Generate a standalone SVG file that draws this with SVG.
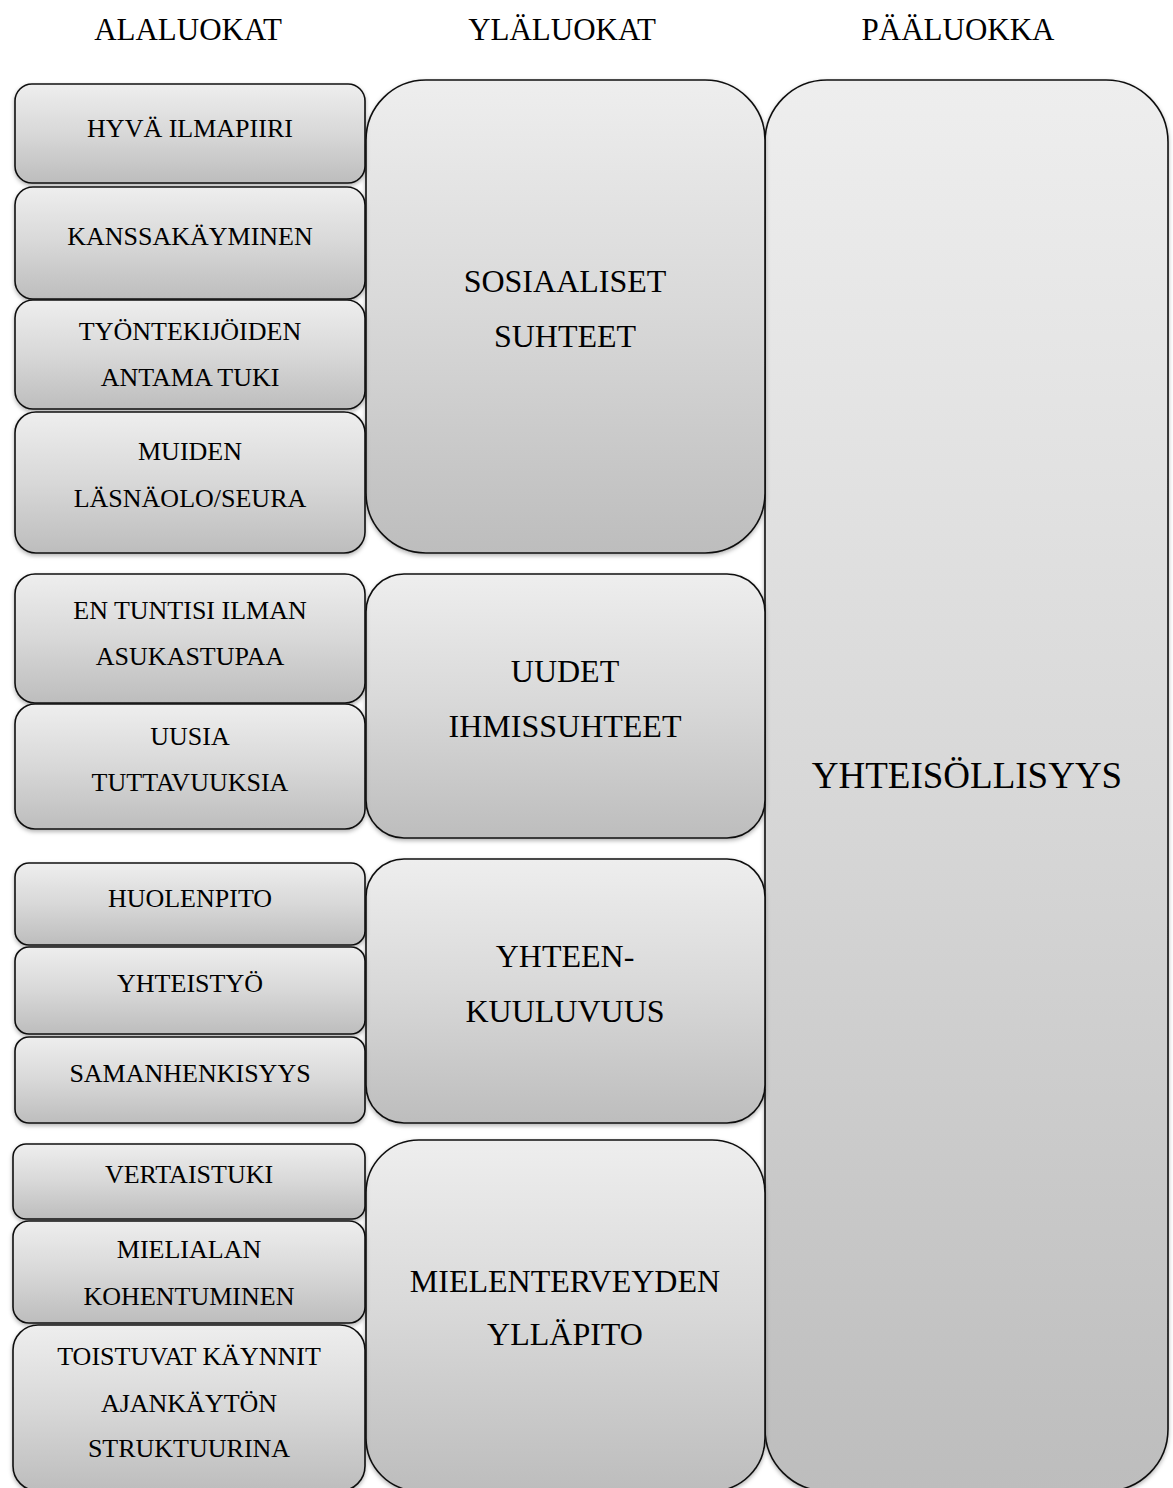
<svg xmlns="http://www.w3.org/2000/svg" width="1173" height="1488" viewBox="0 0 1173 1488">
<defs>
<linearGradient id="g" x1="0" y1="0" x2="0" y2="1">
<stop offset="0" stop-color="#eeeeee"/>
<stop offset="0.5" stop-color="#d8d8d8"/>
<stop offset="1" stop-color="#bdbdbd"/>
</linearGradient>
<filter id="sh" x="-5%" y="-5%" width="110%" height="115%">
<feDropShadow dx="0" dy="2" stdDeviation="2" flood-color="#000" flood-opacity="0.3"/>
</filter>
</defs>
<style>
rect{fill:url(#g);stroke:#111;stroke-width:1.6;filter:url(#sh)}
text{font-family:"Liberation Serif","Times New Roman",serif;fill:#000;text-anchor:middle}
.h{font-size:31px}
.s{font-size:26px}
.m{font-size:32px}
.b{font-size:37px}
</style>
<rect width="1173" height="1488" fill="#fff" style="fill:#fff;stroke:none;filter:none"/>
<g id="headers">
<text class="h" x="188" y="40">ALALUOKAT</text>
<text class="h" x="562" y="40">YLÄLUOKAT</text>
<text class="h" x="958" y="40">PÄÄLUOKKA</text>
</g>
<g id="connectors"></g>
<g id="paaluokka">
<rect x="765" y="80" width="403" height="1411" rx="62"/>
<text class="b" x="967" y="788">YHTEISÖLLISYYS</text>
</g>
<g id="ylaluokka-sosiaaliset">
<rect x="366" y="80" width="399" height="473" rx="60"/>
<text class="m" x="565" y="292">SOSIAALISET</text>
<text class="m" x="565" y="347">SUHTEET</text>
</g>
<g id="ylaluokka-uudet">
<rect x="366" y="574" width="399" height="264" rx="38"/>
<text class="m" x="565" y="682">UUDET</text>
<text class="m" x="565" y="737">IHMISSUHTEET</text>
</g>
<g id="ylaluokka-yhteenkuuluvuus">
<rect x="366" y="859" width="399" height="264" rx="38"/>
<text class="m" x="565" y="967">YHTEEN-</text>
<text class="m" x="565" y="1022">KUULUVUUS</text>
</g>
<g id="ylaluokka-mielenterveys">
<rect x="366" y="1140" width="399" height="351" rx="53"/>
<text class="m" x="565" y="1292">MIELENTERVEYDEN</text>
<text class="m" x="565" y="1345">YLLÄPITO</text>
</g>
<g id="ala-1">
<rect x="15" y="84" width="350" height="99" rx="17"/>
<text class="s" x="190" y="137">HYVÄ ILMAPIIRI</text>
</g>
<g id="ala-2">
<rect x="15" y="187" width="350" height="112" rx="18"/>
<text class="s" x="190" y="245">KANSSAKÄYMINEN</text>
</g>
<g id="ala-3">
<rect x="15" y="300" width="350" height="109" rx="18"/>
<text class="s" x="190" y="340">TYÖNTEKIJÖIDEN</text>
<text class="s" x="190" y="386">ANTAMA TUKI</text>
</g>
<g id="ala-4">
<rect x="15" y="412" width="350" height="141" rx="21"/>
<text class="s" x="190" y="460">MUIDEN</text>
<text class="s" x="190" y="507">LÄSNÄOLO/SEURA</text>
</g>
<g id="ala-5">
<rect x="15" y="574" width="350" height="129" rx="20"/>
<text class="s" x="190" y="619">EN TUNTISI ILMAN</text>
<text class="s" x="190" y="665">ASUKASTUPAA</text>
</g>
<g id="ala-6">
<rect x="15" y="704" width="350" height="125" rx="20"/>
<text class="s" x="190" y="745">UUSIA</text>
<text class="s" x="190" y="791">TUTTAVUUKSIA</text>
</g>
<g id="ala-7">
<rect x="15" y="863" width="350" height="82" rx="14"/>
<text class="s" x="190" y="907">HUOLENPITO</text>
</g>
<g id="ala-8">
<rect x="15" y="947" width="350" height="87" rx="14"/>
<text class="s" x="190" y="992">YHTEISTYÖ</text>
</g>
<g id="ala-9">
<rect x="15" y="1037" width="350" height="86" rx="14"/>
<text class="s" x="190" y="1082">SAMANHENKISYYS</text>
</g>
<g id="ala-10">
<rect x="13" y="1144" width="352" height="75" rx="13"/>
<text class="s" x="189" y="1183">VERTAISTUKI</text>
</g>
<g id="ala-11">
<rect x="13" y="1221" width="352" height="102" rx="16"/>
<text class="s" x="189" y="1258">MIELIALAN</text>
<text class="s" x="189" y="1305">KOHENTUMINEN</text>
</g>
<g id="ala-12">
<rect x="13" y="1325" width="352" height="166" rx="25"/>
<text class="s" x="189" y="1365">TOISTUVAT KÄYNNIT</text>
<text class="s" x="189" y="1412">AJANKÄYTÖN</text>
<text class="s" x="189" y="1457">STRUKTUURINA</text>
</g>
</svg>
